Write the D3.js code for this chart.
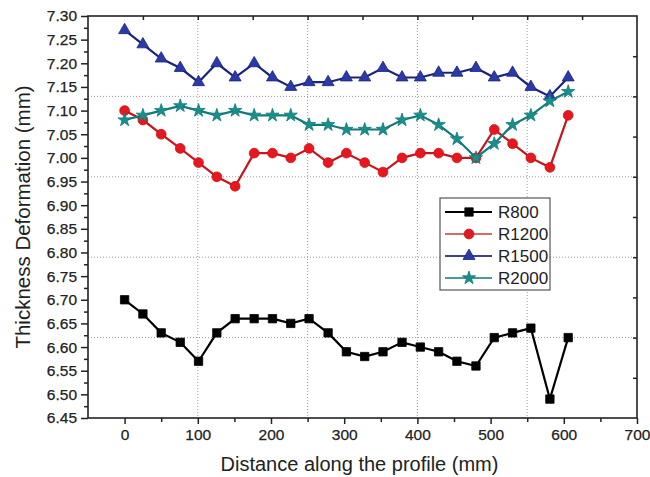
<!DOCTYPE html>
<html>
<head>
<meta charset="utf-8">
<script src="https://cdn.jsdelivr.net/npm/d3@7"></script>
<style>
  body { margin: 0; background: #fff; }
  svg { display: block; }
</style>
</head>
<body>
<svg id="chart"></svg>
<script>
// values
var distance = [0, 25, 50, 76, 101, 126, 151, 177, 202, 227, 252, 278, 303, 328, 353, 379, 404, 429, 454, 480, 505, 530, 555, 581, 606];
var r800  = [6.70, 6.67, 6.63, 6.61, 6.57, 6.63, 6.66, 6.66, 6.66, 6.65, 6.66, 6.63, 6.59, 6.58, 6.59, 6.61, 6.60, 6.59, 6.57, 6.56, 6.62, 6.63, 6.64, 6.49, 6.62];
var r1200 = [7.10, 7.08, 7.05, 7.02, 6.99, 6.96, 6.94, 7.01, 7.01, 7.00, 7.02, 6.99, 7.01, 6.99, 6.97, 7.00, 7.01, 7.01, 7.00, 7.00, 7.06, 7.03, 7.00, 6.98, 7.09];
var r1500 = [7.27, 7.24, 7.21, 7.19, 7.16, 7.20, 7.17, 7.20, 7.17, 7.15, 7.16, 7.16, 7.17, 7.17, 7.19, 7.17, 7.17, 7.18, 7.18, 7.19, 7.17, 7.18, 7.15, 7.13, 7.17];
var r2000 = [7.08, 7.09, 7.10, 7.11, 7.10, 7.09, 7.10, 7.09, 7.09, 7.09, 7.07, 7.07, 7.06, 7.06, 7.06, 7.08, 7.09, 7.07, 7.04, 7.00, 7.03, 7.07, 7.09, 7.12, 7.14];

var series_names = ["R800", "R1200", "R1500", "R2000"];
var x_ticks = [0, 100, 200, 300, 400, 500, 600, 700];
var x_minor = [50, 150, 250, 350, 450, 550, 650];
var y_ticks = [6.45, 6.50, 6.55, 6.60, 6.65, 6.70, 6.75, 6.80, 6.85, 6.90, 6.95, 7.00, 7.05, 7.10, 7.15, 7.20, 7.25, 7.30];

var width = 650;
var height = 477;
var margin = {left: 88, top: 16, right: 13, bottom: 59};
var plot_w = width - margin.left - margin.right;
var plot_h = height - margin.top - margin.bottom;

var styles = [
    {line: "#000000", fill: "#000000", legend: "#000000", symbol: d3.symbolSquare, size: 70},
    {line: "#c4161c", fill: "#e8161d", legend: "#d86a6a", symbol: d3.symbolCircle, size: 75},
    {line: "#1b237e", fill: "#2a3aa8", legend: "#3d4585", symbol: d3.symbolTriangle, size: 62},
    {line: "#137a7a", fill: "#17908c", legend: "#4a9a98", symbol: d3.symbolStar, size: 55}
];

var all_series = [r800, r1200, r1500, r2000];

const svg = d3.select("#chart")
            .attr("width", width)
            .attr("height", height)
            .attr("font-family", "'Liberation Sans', Arial, sans-serif");

var x = d3.scaleLinear().domain([-50, 700]).range([0, plot_w]);
var y = d3.scaleLinear().domain([6.45, 7.30]).range([plot_h, 0]);
// the frame is also split in even parts for the dotted grid and the top/right ticks
var gx = d3.scaleLinear().domain([0, 10]).range([0, plot_w]);
var gy = d3.scaleLinear().domain([0, 10]).range([plot_h, 0]);

const g = svg.append("g")
            .attr("transform", "translate(" + margin.left + "," + margin.top + ")");

// dotted grid
g.selectAll(".grid_v")
    .data([2, 4, 6, 8])
    .enter()
    .append("line")
    .attr("class", "grid_v")
    .attr("x1", d => gx(d)).attr("x2", d => gx(d))
    .attr("y1", 0).attr("y2", plot_h)
    .attr("stroke", "#9a9a9a")
    .attr("stroke-width", 1)
    .attr("stroke-dasharray", "1,2");

g.selectAll(".grid_h")
    .data([2, 4, 6, 8])
    .enter()
    .append("line")
    .attr("class", "grid_h")
    .attr("y1", d => gy(d)).attr("y2", d => gy(d))
    .attr("x1", 0).attr("x2", plot_w)
    .attr("stroke", "#9a9a9a")
    .attr("stroke-width", 1)
    .attr("stroke-dasharray", "1,2");

// axes
function style_axis(sel) {
    sel.select(".domain").remove();
    sel.selectAll("line").attr("stroke", "#222").attr("stroke-width", 1.5);
    sel.selectAll("text").attr("fill", "#222").attr("font-size", 15.5)
        .attr("stroke", "#222").attr("stroke-width", 0.25);
}

g.append("g")
    .attr("transform", "translate(0," + plot_h + ")")
    .call(d3.axisBottom(x).tickValues(x_ticks).tickSize(6).tickPadding(5).tickFormat(d3.format("d")))
    .call(style_axis);

g.append("g")
    .attr("transform", "translate(0," + plot_h + ")")
    .call(d3.axisBottom(x).tickValues(x_minor).tickSize(4).tickFormat(""))
    .call(style_axis);

g.append("g")
    .call(d3.axisLeft(y).tickValues(y_ticks).tickSize(7).tickPadding(4).tickFormat(d3.format(".2f")))
    .call(style_axis);

g.append("g")
    .call(d3.axisLeft(y).tickValues(y_ticks.slice(0, -1).map(d => d + 0.025)).tickSize(4).tickFormat(""))
    .call(style_axis);

g.append("g")
    .call(d3.axisTop(gx).tickValues(d3.range(1, 10)).tickSize(-4).tickFormat(""))
    .call(style_axis);

g.append("g")
    .attr("transform", "translate(" + plot_w + ",0)")
    .call(d3.axisRight(gy).tickValues(d3.range(1, 10)).tickSize(-4).tickFormat(""))
    .call(style_axis);

// frame
g.append("rect")
    .attr("width", plot_w)
    .attr("height", plot_h)
    .attr("fill", "none")
    .attr("stroke", "#222")
    .attr("stroke-width", 1.6);

// series
var line = d3.line()
            .x((d, i) => x(distance[i]))
            .y(d => y(d));

all_series.forEach((values, k) => {
    let s = styles[k];
    g.append("path")
        .datum(values)
        .attr("d", line)
        .attr("fill", "none")
        .attr("stroke", s.line)
        .attr("stroke-width", 2.2);

    g.selectAll(".mark_" + k)
        .data(values)
        .enter()
        .append("path")
        .attr("class", "mark_" + k)
        .attr("transform", (d, i) => "translate(" + x(distance[i]) + "," + y(d) + ")")
        .attr("d", d3.symbol().type(s.symbol).size(s.size))
        .attr("fill", s.fill)
        .attr("stroke", s.line)
        .attr("stroke-width", 0.8);
});

// legend
var legend_x = 440, legend_y = 198, row_h = 22;
const legend = svg.append("g")
                .attr("transform", "translate(" + legend_x + "," + legend_y + ")");

legend.append("rect")
    .attr("width", 110)
    .attr("height", 92)
    .attr("fill", "#fff")
    .attr("stroke", "#555")
    .attr("stroke-width", 1.2);

series_names.forEach((name, k) => {
    let s = styles[k];
    let ry = 14 + k * row_h;
    legend.append("line")
        .attr("x1", 5).attr("x2", 52)
        .attr("y1", ry).attr("y2", ry)
        .attr("stroke", s.legend)
        .attr("stroke-width", 2);
    legend.append("path")
        .attr("transform", "translate(29," + ry + ")")
        .attr("d", d3.symbol().type(s.symbol).size(s.size))
        .attr("fill", s.fill)
        .attr("stroke", s.line)
        .attr("stroke-width", 0.8);
    legend.append("text")
        .attr("x", 58)
        .attr("y", ry + 6)
        .attr("font-size", 17)
        .attr("fill", "#222")
        .text(name);
});

// axis titles
svg.append("text")
    .attr("x", margin.left + plot_w / 2 - 3)
    .attr("y", 471)
    .attr("text-anchor", "middle")
    .attr("font-size", 20)
    .attr("fill", "#222")
    .text("Distance along the profile (mm)");

svg.append("text")
    .attr("transform", "translate(30," + (margin.top + plot_h / 2) + ") rotate(-90)")
    .attr("text-anchor", "middle")
    .attr("font-size", 20.5)
    .attr("fill", "#222")
    .text("Thickness Deformation (mm)");
</script>
</body>
</html>
